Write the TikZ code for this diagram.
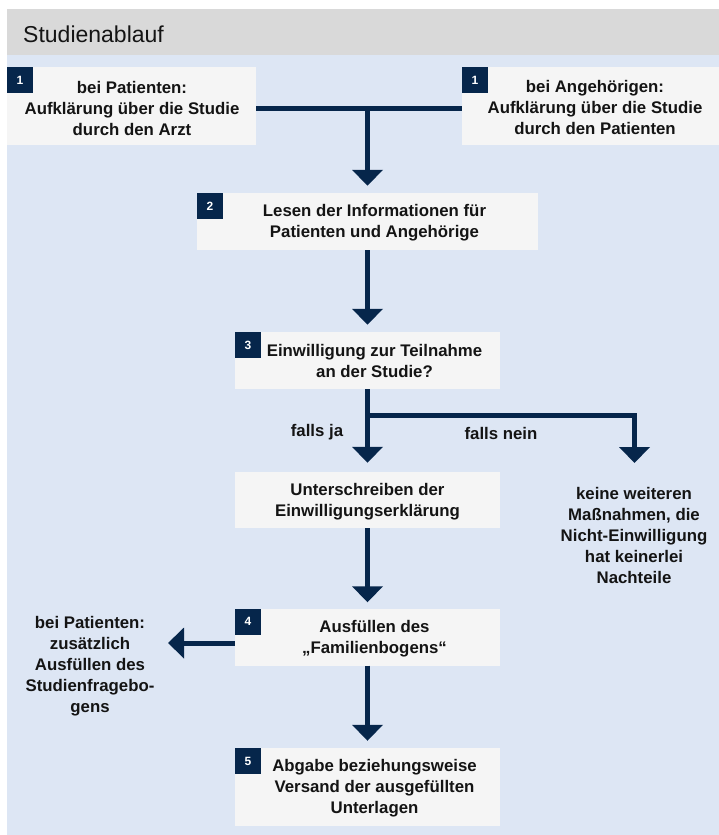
\documentclass[tikz,border=0pt]{standalone}
\usepackage{fontspec}
\setmainfont{Liberation Sans}
\usetikzlibrary{arrows.meta}
\definecolor{navy}{HTML}{06264B}
\definecolor{bgblue}{HTML}{DDE6F4}
\definecolor{boxgray}{HTML}{F5F5F5}
\definecolor{headgray}{HTML}{D9D9D9}
\definecolor{ink}{HTML}{141414}
\newcommand\ST{\rule[-3pt]{0pt}{18pt}}
\begin{document}
\begin{tikzpicture}[x=1pt,y=-1pt,
  panel/.style={fill=boxgray, draw=none, inner sep=0pt, rectangle},
  badge/.style={fill=navy, minimum size=26pt, inner sep=0pt, text=white, font=\fontsize{12}{14}\selectfont\bfseries},
  txt/.style={align=center, inner sep=0pt, text=ink, font=\fontsize{16.8}{21}\selectfont\bfseries},
  flow/.style={draw=navy, line width=5pt, -{Triangle[width=30pt,length=16pt]}},
  link/.style={draw=navy, line width=5pt}
]
\useasboundingbox (0,0) rectangle (718,835);
% background
\fill[white] (-5,-5) rectangle (730,845);
\fill[headgray] (7,9) rectangle (730,55);
\fill[bgblue] (7,55) rectangle (730,845);

\node[anchor=base west, inner sep=0pt, font=\fontsize{23}{27}\selectfont, text=ink] (title) at (23,42) {Studienablauf};

% boxes
\node[panel, minimum width=249pt, minimum height=78pt] (b1a) at (131.5,106) {};
\node[panel, minimum width=266pt, minimum height=78pt] (b1b) at (595,106) {};
\node[panel, minimum width=341pt, minimum height=57pt] (b2) at (367.5,221.5) {};
\node[panel, minimum width=265pt, minimum height=57pt] (b3) at (367.5,360.5) {};
\node[panel, minimum width=265pt, minimum height=56pt] (bU) at (367.5,500) {};
\node[panel, minimum width=265pt, minimum height=57pt] (b4) at (367.5,637) {};
\node[panel, minimum width=265pt, minimum height=78pt] (b5) at (367.5,787) {};

% badges
\node[badge, anchor=north west] (n1a) at (b1a.north west) {1};
\node[badge, anchor=north west] (n1b) at (b1b.north west) {1};
\node[badge, anchor=north west] (n2) at (b2.north west) {2};
\node[badge, anchor=north west] (n3) at (b3.north west) {3};
\node[badge, anchor=north west] (n4) at (b4.north west) {4};
\node[badge, anchor=north west] (n5) at (b5.north west) {5};

% texts
\node[txt] (t1a) at (132,108) {\ST bei Patienten:\\\ST Aufklärung über die Studie\\\ST durch den Arzt};
\node[txt] (t1b) at (595,107.5) {\ST bei Angehörigen:\\\ST Aufklärung über die Studie\\\ST durch den Patienten};
\node[txt] (t2) at (374.5,221.5) {\ST Lesen der Informationen für\\\ST Patienten und Angehörige};
\node[txt] (t3) at (374.5,360.5) {\ST Einwilligung zur Teilnahme\\\ST an der Studie?};
\node[txt] (tU) at (367.5,500) {\ST Unterschreiben der\\\ST Einwilligungserklärung};
\node[txt] (t4) at (374.5,637) {\ST Ausfüllen des\\\ST „Familienbogens“};
\node[txt] (t5) at (374.5,787) {\ST Abgabe beziehungsweise\\\ST Versand der ausgefüllten\\\ST Unterlagen};
\node[txt] (tja) at (317,431) {\ST falls ja};
\node[txt] (tnein) at (501,433) {\ST falls nein};
\node[txt] (tno) at (634,535) {\ST keine weiteren\\\ST Maßnahmen, die\\\ST Nicht-Einwilligung\\\ST hat keinerlei\\\ST Nachteile};
\node[txt] (tpat) at (90,665) {\ST bei Patienten:\\\ST zusätzlich\\\ST Ausfüllen des\\\ST Studienfragebo-\\\ST gens};

% connectors
\coordinate (j1) at (367.5,108);
\coordinate (j3) at (367.5,415);
\coordinate (nein) at (634.5,463);
\coordinate (lt) at (168,643);
\draw[link] (b1a.east |- j1) -- (b1b.west |- j1);
\draw[flow, shorten >=7pt] (j1) -- (b2.north);
\draw[flow, shorten >=7pt] (b2.south) -- (b3.north);
\draw[flow, shorten >=9pt] (b3.south) -- (bU.north);
\draw[flow] (j3) -| (nein);
\draw[flow, shorten >=6pt] (bU.south) -- (b4.north);
\draw[flow, shorten >=7pt] (b4.south) -- (b5.north);
\draw[flow] (b4.west |- lt) -- (lt);
\end{tikzpicture}
\end{document}
